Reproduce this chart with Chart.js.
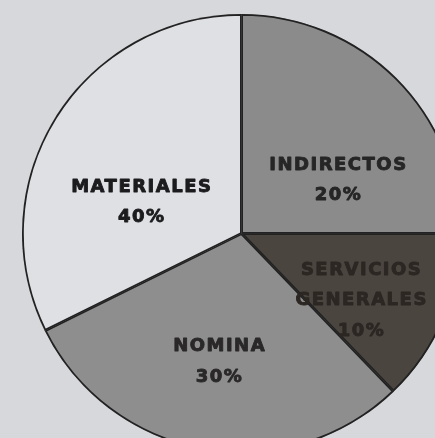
<!DOCTYPE html>
<html>
<head>
<meta charset="utf-8">
<script src="https://cdn.jsdelivr.net/npm/chart.js@4/dist/chart.umd.min.js"></script>
<style>
  html, body { margin: 0; padding: 0; width: 435px; height: 438px; overflow: hidden; background: #d7d8dc; }
  #wrap { position: absolute; left: 22px; top: 14px; width: 439px; height: 439px; }
</style>
</head>
<body>
<div id="wrap"><canvas id="c"></canvas></div>
<script>
// Categories, drawn slice sizes and printed labels
const categories = ["INDIRECTOS", "SERVICIOS GENERALES", "NOMINA", "MATERIALES"];
const sliceShares = [25, 12.8, 29.9, 32.3];
const printedPercents = ["20%", "10%", "30%", "40%"];
const labelLines = [["INDIRECTOS"], ["SERVICIOS", "GENERALES"], ["NOMINA"], ["MATERIALES"]];

const fillColors = ["#8b8b8b", "#4b4540", "#8e8e8e", "#dfe0e4"];
const textColors = ["#262626", "#2c2723", "#2a2828", "#1c1c1e"];
// label placement: [fraction of radius, angle shift in degrees from slice middle]
const labelPlace = [[0.51, 15], [0.62, 5], [0.58, 0], [0.48, -13]];

const labelPlugin = {
  id: 'sliceLabels',
  afterDatasetsDraw(chart) {
    const ctx = chart.ctx;
    const meta = chart.getDatasetMeta(0);
    ctx.save();
    ctx.textAlign = 'center';
    ctx.textBaseline = 'middle';
    ctx.font = 'bold 18px "DejaVu Sans", Arial, sans-serif';
    try { ctx.letterSpacing = '1.5px'; } catch (e) {}
    ctx.lineWidth = 0.9;
    ctx.lineJoin = 'round';
    meta.data.forEach((arc, i) => {
      const p = arc.getProps(['x', 'y', 'startAngle', 'endAngle', 'outerRadius'], true);
      const mid = (p.startAngle + p.endAngle) / 2 + labelPlace[i][1] * Math.PI / 180;
      const r = p.outerRadius * labelPlace[i][0];
      const cx = p.x + Math.cos(mid) * r;
      const cy = p.y + Math.sin(mid) * r + 3;
      const lines = labelLines[i].concat([printedPercents[i]]);
      const lh = 30.5;
      const y0 = cy - (lines.length - 1) * lh / 2;
      ctx.fillStyle = textColors[i];
      ctx.strokeStyle = textColors[i];
      lines.forEach((t, k) => {
        ctx.fillText(t, cx, y0 + k * lh);
        ctx.strokeText(t, cx, y0 + k * lh);
      });
    });
    ctx.restore();
  }
};

new Chart(document.getElementById('c'), {
  type: 'pie',
  data: {
    labels: categories,
    datasets: [{
      data: sliceShares,
      backgroundColor: fillColors,
      borderColor: "#222222",
      borderWidth: 1.5,
      borderAlign: 'inner'
    }]
  },
  options: {
    responsive: true,
    maintainAspectRatio: false,
    animation: false,
    layout: { padding: 0 },
    plugins: { legend: { display: false }, tooltip: { enabled: false } }
  },
  plugins: [labelPlugin]
});
</script>
</body>
</html>
